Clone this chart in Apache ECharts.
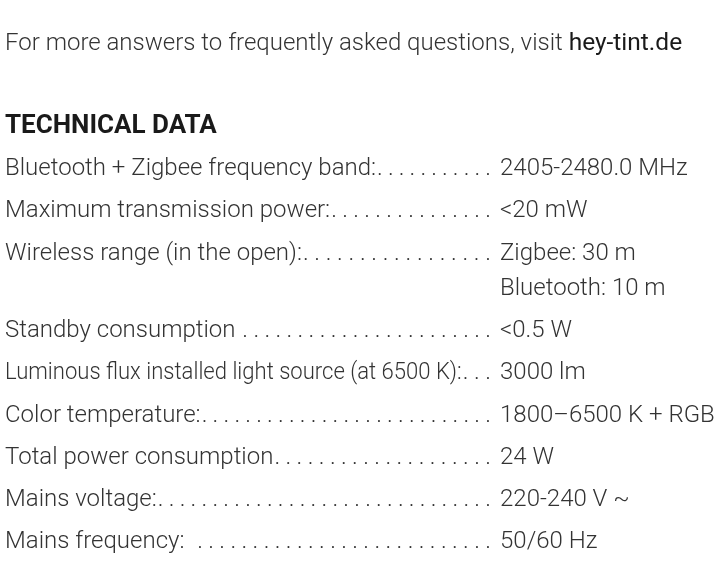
<!DOCTYPE html>
<html>
<head>
<meta charset="utf-8">
<script src="https://cdn.jsdelivr.net/npm/echarts@6/dist/echarts.min.js"></script>
<style>
html, body { margin: 0; padding: 0; background: #fff; }
#main { width: 718px; height: 563px; }
</style>
</head>
<body>
<div id="main"></div>
<script>
// text content of the sheet
var introText = 'For more answers to frequently asked questions, visit ';
var introLink = 'hey-tint.de';
var heading = 'TECHNICAL DATA';
var labels = [
    'Bluetooth + Zigbee frequency band:',
    'Maximum transmission power:',
    'Wireless range (in the open):',
    'Standby consumption ',
    'Luminous flux installed light source (at 6500 K):',
    'Color temperature:',
    'Total power consumption',
    'Mains voltage:',
    'Mains frequency:  '
];
var values = [
    ['2405-2480.0 MHz'],
    ['<20 mW'],
    ['Zigbee: 30 m', 'Bluetooth: 10 m'],
    ['<0.5 W'],
    ['3000 lm'],
    ['1800\u20136500 K + RGB'],
    ['24 W'],
    ['220-240 V ~'],
    ['50/60 Hz']
];

var myChart = echarts.init(document.getElementById('main'), null, { renderer: 'canvas' });

var bodyFont = '300 24px Roboto';
var textColor = '#333';
var leftX = 5;
var dotsEnd = 491;
var valueX = 500;
var minDots = 3;
var baseOffset = 19; // top of the text box -> baseline

var ctx = document.createElement('canvas').getContext('2d');
function measure(str) {
    ctx.font = bodyFont;
    return ctx.measureText(str).width;
}

var elements = [];

elements.push({
    type: 'text',
    x: leftX, y: 50 - baseOffset,
    style: {
        text: '{a|' + introText + '}{b|' + introLink + '}',
        rich: {
            a: { font: bodyFont, fill: textColor },
            b: { font: '400 24.5px Roboto', fill: '#1a1a1a' }
        }
    }
});

elements.push({
    type: 'text',
    x: leftX, y: 134 - 21,
    style: {
        text: heading,
        font: 'bold 26px Roboto',
        fill: '#1a1a1a'
    }
});

var rowGap = 42.3;
var subGap = 35;
var baseline = 176;
var pitch = 10.8;
var dotW = measure('.');
for (var i = 0; i < labels.length; i++) {
    var rowTop = baseline - baseOffset;
    var w = measure(labels[i]);
    var minW = (minDots - 1) * pitch + dotW + 2;
    // squeeze a label that would leave no room for its leader dots
    var sx = 1;
    if (leftX + w + minW > dotsEnd) sx = (dotsEnd - minW - leftX) / w;
    elements.push({
        type: 'text', x: leftX, y: rowTop, scaleX: sx,
        style: { text: labels[i], font: bodyFont, fill: textColor }
    });
    // leader dots, spread from the end of the label to the value column
    var start = leftX + w * sx + 1;
    var n = Math.max(minDots, Math.round((dotsEnd - start) / pitch));
    var step = (dotsEnd - dotW - start) / (n - 1);
    for (var k = 0; k < n; k++) {
        elements.push({
            type: 'text', x: start + k * step, y: rowTop,
            style: { text: '.', font: bodyFont, fill: textColor }
        });
    }
    for (var j = 0; j < values[i].length; j++) {
        elements.push({
            type: 'text', x: valueX, y: rowTop + j * subGap,
            style: { text: values[i][j], font: bodyFont, fill: textColor }
        });
    }
    baseline += (values[i].length - 1) * subGap + rowGap;
}

var option = {
    backgroundColor: '#fff',
    animation: false,
    graphic: { elements: elements }
};

myChart.setOption(option);
</script>
</body>
</html>
